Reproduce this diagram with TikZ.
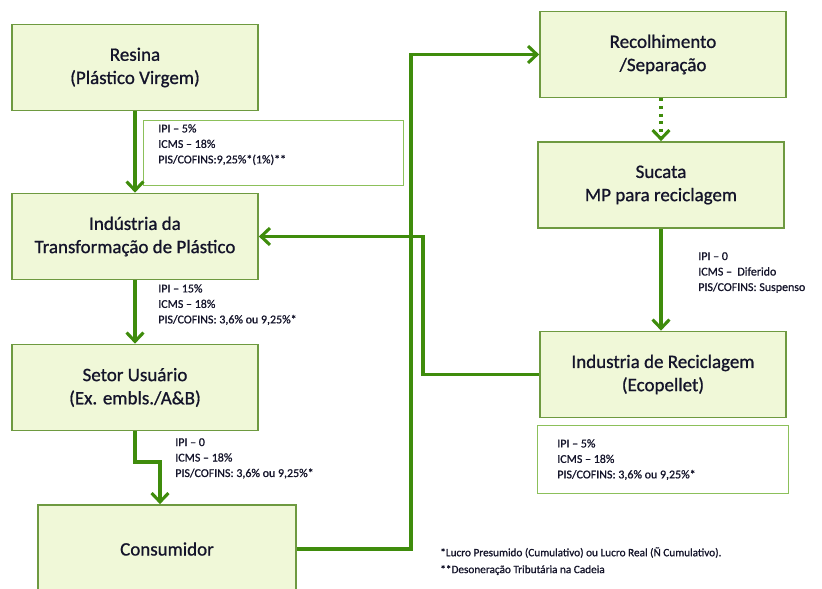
\documentclass[tikz,border=0pt]{standalone}
\usepackage{fontspec}
\setmainfont{Carlito}[RawFeature={embolden=0.9}]
\usetikzlibrary{arrows.meta,positioning}
\definecolor{boxfill}{HTML}{F0F8D8}
\definecolor{boxline}{HTML}{6E9A40}
\definecolor{flowgreen}{HTML}{3F8C0C}
\definecolor{taxline}{HTML}{8CC05A}
\definecolor{inktext}{HTML}{14142A}
\tikzstyle{chain-box} = [draw=boxline, fill=boxfill, line width=1.2pt,
    rectangle, minimum width=6.15cm, minimum height=2.15cm,
    align=center, text=inktext, font=\fontsize{13.5}{16.5}\selectfont]
\tikzstyle{tax-box} = [draw=taxline, line width=0.9pt, rectangle,
    anchor=north west, inner sep=0pt]
\tikzstyle{tax-note} = [align=left, text=inktext, anchor=north west,
    inner sep=0pt, font=\fontsize{8.5}{11}\selectfont]
\tikzstyle{flow} = [draw=flowgreen, line width=2.2pt,
    -{Straight Barb[length=2.2mm, width=4.2mm]}]

\begin{document}
\begin{tikzpicture}[x=0.025cm, y=-0.025cm]
\useasboundingbox (0,0) rectangle (822,589);
% cadeia principal
\node [chain-box] (resina) at (135,67.5) {Resina\\(Plástico Virgem)};
\node [chain-box] (transf) at (135,236.5) {Indústria da\\Transformação de Plástico};
\node [chain-box] (usuario) at (135,387.5) {Setor Usuário\\(Ex. embls./A\&B)};
\node [chain-box, minimum width=6.45cm, minimum height=2.2cm] (consumidor) at (167,549) {Consumidor};
% reciclagem
\node [chain-box] (recolh) at (663,54.5) {Recolhimento\\/Separação};
\node [chain-box] (sucata) at (661,185) {Sucata\\MP para reciclagem};
\node [chain-box] (recicl) at (663,374.5) {Industria de Reciclagem\\(Ecopellet)};

% tributos
\node [tax-box, minimum width=6.5cm, minimum height=1.625cm] (box-resina) at (143,120) {};
\node [tax-note] (tax-resina) at (158,124) {IPI – 5\%\\ICMS – 18\%\\PIS/COFINS:9,25\%*(1\%)**};
\node [tax-note] (tax-transf) at (158,284) {IPI – 15\%\\ICMS – 18\%\\PIS/COFINS: 3,6\% ou 9,25\%*};
\node [tax-note] (tax-usuario) at (175,438) {IPI – 0\\ICMS – 18\%\\PIS/COFINS: 3,6\% ou 9,25\%*};
\node [tax-note] (tax-sucata) at (698,252) {IPI – 0\\ICMS – \ Diferido\\PIS/COFINS: Suspenso};
\node [tax-box, minimum width=6.275cm, minimum height=1.7cm] (box-recicl) at (537,425) {};
\node [tax-note] (tax-recicl) at (557,439) {IPI – 5\%\\ICMS – 18\%\\PIS/COFINS: 3,6\% ou 9,25\%*};

\node [tax-note, font=\fontsize{8}{12}\selectfont] (notas) at (440,547)
    {*Lucro Presumido (Cumulativo) ou Lucro Real (Ñ Cumulativo).\\**Desoneração Tributária na Cadeia};

% ligacoes
\coordinate (bend-cons) at (160,462);
\coordinate (riser) at (411,0);
\coordinate (return-x) at (423,0);
\draw [flow] (resina) -- (transf);
\draw [flow] (transf) -- (usuario);
\draw [flow] (usuario.south) |- (bend-cons) -- (bend-cons |- consumidor.north);
\draw [flow] (recicl.west) -| (return-x |- transf.east) -- (transf.east);
\draw [flow] (consumidor.east) -| (riser |- recolh.west) -- (recolh.west);
\draw [flow, dash pattern=on 2.2pt off 3.2pt] (recolh.south -| sucata.north) -- (sucata.north);
\draw [flow] (sucata.south) -- (sucata.south |- recicl.north);
\end{tikzpicture}
\end{document}
